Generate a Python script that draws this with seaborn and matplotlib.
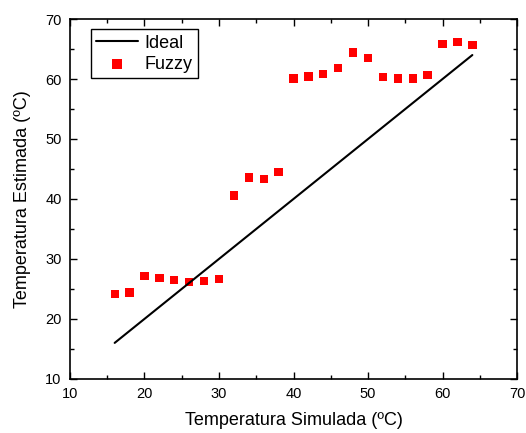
import matplotlib
matplotlib.use("Agg")
import matplotlib.pyplot as plt
import seaborn as sns
import pandas as pd
from matplotlib.ticker import MultipleLocator

sns.set_theme(style="ticks")
plt.rcParams['font.family'] = ['Liberation Sans', 'DejaVu Sans']
plt.rcParams['text.color'] = 'black'
plt.rcParams['axes.labelcolor'] = 'black'

ideal_x = [16, 64]
ideal_y = [16, 64]
fuzzy_x = [16, 18, 20, 22, 24, 26, 28, 30, 32, 34, 36, 38, 40, 42, 44, 46, 48, 50, 52, 54, 56, 58, 60, 62, 64]
fuzzy_y = [24.2, 24.4, 27.1, 26.8, 26.5, 26.2, 26.3, 26.6, 40.6, 43.6, 43.3, 44.5, 60.1, 60.4, 60.8, 61.8,
           64.4, 63.5, 60.3, 60.1, 60.1, 60.7, 65.8, 66.2, 65.7]

df_ideal = pd.DataFrame({"x": ideal_x, "y": ideal_y})
df_fuzzy = pd.DataFrame({"x": fuzzy_x, "y": fuzzy_y})

fig = plt.figure(figsize=(5.26, 4.33), dpi=100)
ax = fig.add_axes([0.133, 0.125, 0.85, 0.831])

sns.lineplot(data=df_ideal, x="x", y="y", ax=ax, color="black", linewidth=1.5, label="Ideal")
sns.scatterplot(data=df_fuzzy, x="x", y="y", ax=ax, color="#ff0000", marker="s", s=36,
                edgecolor="none", label="Fuzzy")

ax.set_xlim(10, 70)
ax.set_ylim(10, 70)
ax.xaxis.set_major_locator(MultipleLocator(10))
ax.xaxis.set_minor_locator(MultipleLocator(5))
ax.yaxis.set_major_locator(MultipleLocator(10))
ax.yaxis.set_minor_locator(MultipleLocator(5))
ax.tick_params(which="both", direction="in", top=True, right=True, colors="black", labelsize=10.5, pad=6)
ax.tick_params(which="major", length=5, width=1)
ax.tick_params(which="minor", length=3, width=1)
for s in ax.spines.values():
    s.set_color("black")
    s.set_linewidth(1.2)

ax.set_xlabel("Temperatura Simulada (ºC)", fontsize=13, color="black", labelpad=8)
ax.set_ylabel("Temperatura Estimada (ºC)", fontsize=13, color="black", labelpad=10)

leg = ax.legend(loc="upper left", bbox_to_anchor=(0.047, 0.972), fontsize=13, frameon=True,
                fancybox=False, edgecolor="black", handlelength=2.3, borderpad=0.3,
                labelspacing=0.25, handletextpad=0.35, borderaxespad=0, markerscale=1.2)
leg.get_frame().set_linewidth(1)
leg.get_frame().set_alpha(1)
for t in leg.get_texts():
    t.set_color("black")

fig.savefig("out.png", dpi=100)
